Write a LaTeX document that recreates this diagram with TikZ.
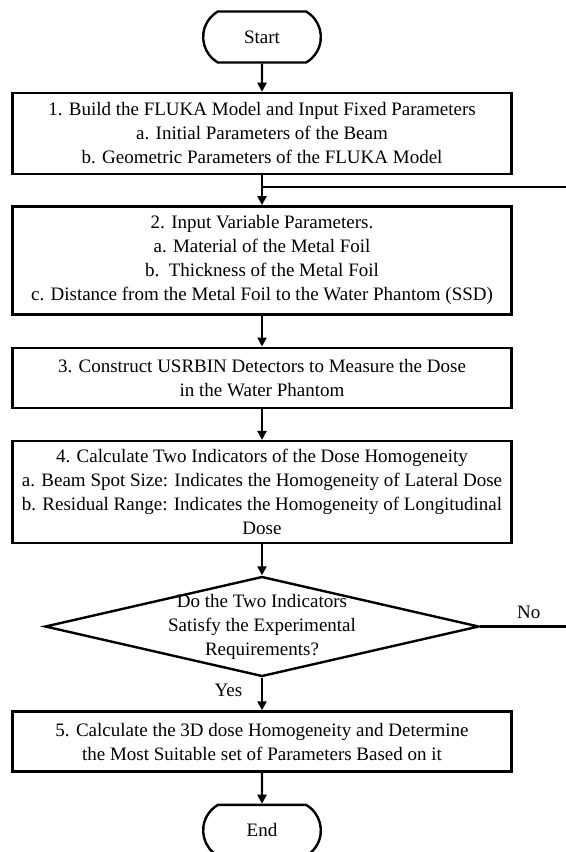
\documentclass[tikz,border=0pt]{standalone}
\usepackage{fontspec}
\setmainfont{Liberation Serif}
\usetikzlibrary{
  arrows.meta,
  positioning,
  shapes.geometric,
  shapes.misc
}

\begin{document}
\begin{tikzpicture}[
  node distance=15.5pt,
  every node/.style={font=\fontsize{9.5}{12}\selectfont},
  flowbox/.style={draw, line width=1.2pt, align=center, minimum width=249.5pt, inner ysep=3pt},
  terminal/.style={draw, line width=1.2pt, rounded rectangle, rounded rectangle arc length=120,
    minimum width=65.5pt, minimum height=25.5pt},
  decision/.style={draw, line width=1.2pt, diamond, aspect=4.34, inner xsep=0pt, inner ysep=-3pt,
    align=center, minimum width=217pt, minimum height=50pt},
  flow/.style={-{Triangle[length=4.5pt,width=4.5pt]}, line width=1.1pt}
]
  % frame of the page
  \useasboundingbox (0,0) rectangle (283pt,-426pt);
  \clip (0,0) rectangle (283pt,-426pt);

  % Start
  \node[terminal] (start) at (131pt,-18.5pt) {Start};

  % Fixed parameters
  \node[flowbox, minimum height=40.5pt, below=14pt of start] (fixed)
    {1. Build the FLUKA Model and Input Fixed Parameters\\
     a. Initial Parameters of the Beam\\
     b. Geometric Parameters of the FLUKA Model};

  % Variable parameters
  \node[flowbox, minimum height=54pt, below=15pt of fixed] (vars)
    {2. Input Variable Parameters.\\
     a. Material of the Metal Foil\\
     b.\ \ Thickness of the Metal Foil\\
     c. Distance from the Metal Foil to the Water Phantom (SSD)};

  % Detectors
  \node[flowbox, minimum height=30pt, below=of vars] (usrbin)
    {3. Construct USRBIN Detectors to Measure the Dose\\
     in the Water Phantom};

  % Indicators
  \node[flowbox, minimum height=51pt, below=of usrbin] (indic)
    {4. Calculate Two Indicators of the Dose Homogeneity\\
     a. Beam Spot Size: Indicates the Homogeneity of Lateral Dose\\
     b. Residual Range: Indicates the Homogeneity of Longitudinal\\
     Dose};

  % Decision
  \node[decision, below=of indic] (check)
    {Do the Two Indicators\\ Satisfy the Experimental\\ Requirements?};

  % Result
  \node[flowbox, minimum height=30pt, below=16.3pt of check] (best)
    {5. Calculate the 3D dose Homogeneity and Determine\\
     the Most Suitable set of Parameters Based on it};

  % End
  \node[terminal, below=of best] (stop) {End};

  % loop points
  \coordinate[below=6pt of fixed] (merge);
  \coordinate (loop) at ([xshift=48.5pt]check.east);

  % Arrows
  \draw[flow] (start) -- (fixed);
  \draw[flow] (fixed) -- (vars);
  \draw[flow] (vars) -- (usrbin);
  \draw[flow] (usrbin) -- (indic);
  \draw[flow] (indic) -- (check);
  \draw[flow] (check) -- node[left=6pt, pos=0.4] {Yes} (best);
  \draw[flow] (best) -- (stop);
  \draw[line width=1.1pt] (check.east) -- node[above] {No} (loop) |- (merge);
\end{tikzpicture}
\end{document}
